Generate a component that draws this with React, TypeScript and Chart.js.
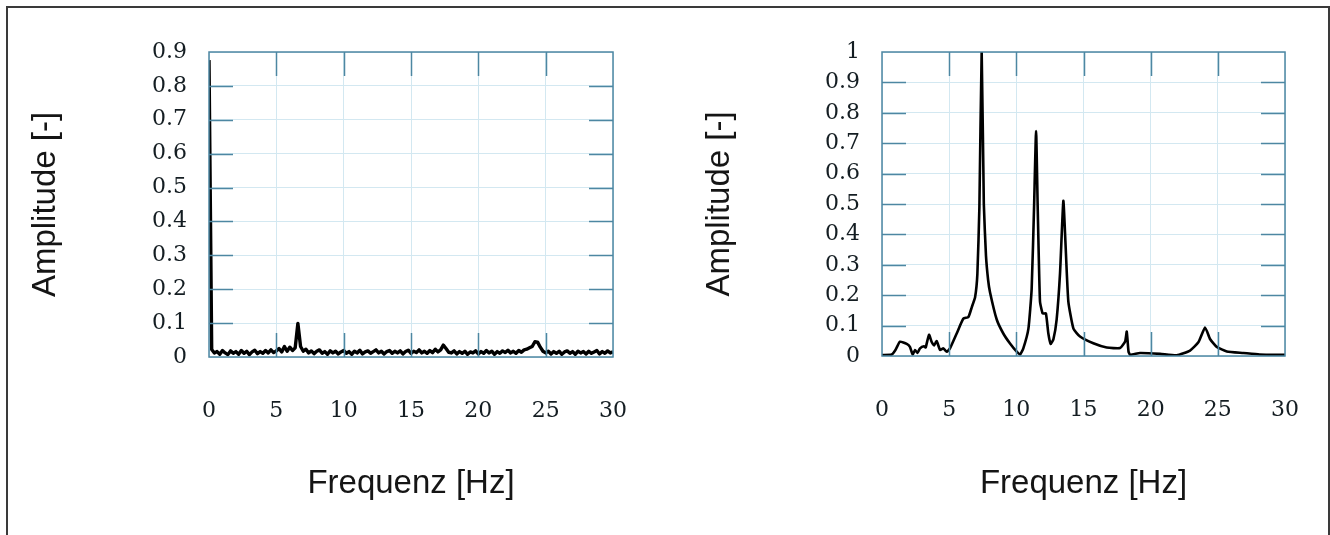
import React, { useEffect, useRef } from "react";
import { Chart, registerables } from "chart.js";

Chart.register(...registerables);

// ---------- DATA ----------
const STEP_LEFT = 0.2; // Hz between samples of left spectrum
const ampLeft = [
  0.876, 0.022, 0.012, 0.016, 0.008, 0.019, 0.012, 0.007, 0.018, 0.011,
  0.016, 0.008, 0.019, 0.011, 0.017, 0.007, 0.015, 0.020, 0.010, 0.016,
  0.011, 0.019, 0.012, 0.021, 0.013, 0.018, 0.025, 0.015, 0.031, 0.017,
  0.029, 0.019, 0.027, 0.099, 0.031, 0.017, 0.023, 0.012, 0.018, 0.010,
  0.017, 0.021, 0.011, 0.016, 0.008, 0.018, 0.012, 0.017, 0.009, 0.015,
  0.019, 0.011, 0.016, 0.008, 0.017, 0.012, 0.020, 0.009, 0.015, 0.018,
  0.011, 0.016, 0.021, 0.012, 0.017, 0.009, 0.016, 0.019, 0.011, 0.017,
  0.012, 0.018, 0.009, 0.016, 0.020, 0.011, 0.017, 0.013, 0.021, 0.012,
  0.017, 0.011, 0.019, 0.013, 0.023, 0.015, 0.021, 0.035, 0.025, 0.014,
  0.012, 0.018, 0.009, 0.016, 0.011, 0.017, 0.008, 0.015, 0.012, 0.018,
  0.009, 0.016, 0.011, 0.019, 0.012, 0.017, 0.008, 0.016, 0.011, 0.018,
  0.013, 0.020, 0.012, 0.017, 0.011, 0.019, 0.014, 0.021, 0.023, 0.027,
  0.031, 0.045, 0.044, 0.029, 0.017, 0.012, 0.017, 0.009, 0.016, 0.011,
  0.017, 0.008, 0.015, 0.018, 0.011, 0.016, 0.008, 0.017, 0.012, 0.016,
  0.009, 0.017, 0.011, 0.015, 0.019, 0.009, 0.016, 0.011, 0.018, 0.012,
  0.015,
];

const freqRight = [
  0, 0.72, 1.0, 1.34, 1.84, 2.08, 2.28, 2.46, 2.63, 2.83, 3.13, 3.25, 3.5, 3.7,
  3.88, 4.07, 4.32, 4.57, 4.82, 5.06, 5.56, 6.06, 6.43, 6.68, 6.93, 7.1, 7.25,
  7.42, 7.58, 7.74, 7.9, 8.04, 8.54, 9.03, 9.53, 10.03, 10.28, 10.52, 10.9,
  11.14, 11.32, 11.47, 11.59, 11.76, 11.96, 12.2, 12.38, 12.56, 12.76, 13.0,
  13.25, 13.5, 13.65, 13.87, 14.25, 14.74, 15.73, 16.73, 17.72, 18.1, 18.22,
  18.35, 18.47, 19.2, 20.7, 21.94, 22.93, 23.55, 24.05, 24.42, 24.92, 25.67,
  26.9, 28.1, 30,
];
const ampRight = [
  0.003, 0.005, 0.02, 0.047, 0.04, 0.03, 0.005, 0.02, 0.01, 0.025, 0.032,
  0.028, 0.07, 0.046, 0.035, 0.049, 0.02, 0.025, 0.014, 0.025, 0.074, 0.123,
  0.128, 0.16, 0.193, 0.27, 0.49, 1.0, 0.5, 0.33, 0.25, 0.21, 0.12, 0.074,
  0.041, 0.014, 0.005, 0.025, 0.09, 0.22, 0.49, 0.74, 0.49, 0.18, 0.14, 0.14,
  0.075, 0.04, 0.055, 0.12, 0.27, 0.51, 0.38, 0.18, 0.09, 0.064, 0.042, 0.028,
  0.026, 0.048, 0.08, 0.015, 0.004, 0.01, 0.007, 0.002, 0.018, 0.045, 0.094,
  0.056, 0.03, 0.015, 0.01, 0.005, 0.004,
];

const yLabelsLeft = ["0", "0.1", "0.2", "0.3", "0.4", "0.5", "0.6", "0.7", "0.8", "0.9"];
const yLabelsRight = ["0", "0.1", "0.2", "0.3", "0.4", "0.5", "0.6", "0.7", "0.8", "0.9", "1"];
const xLabels = ["0", "5", "10", "15", "20", "25", "30"];
const X_TITLE = "Frequenz [Hz]";
const Y_TITLE = "Amplitude [-]";

// ---------- STYLE ----------
const AXIS_COLOR = "#4d87a2";
const GRID_COLOR = "#d3e8f1";
const TICK_FONT = { family: "'DejaVu Serif', serif", size: 22 };
const TITLE_FONT = { family: "'Liberation Sans', Arial, sans-serif", size: 33 };

const framePlugin = {
  id: "frame",
  afterDraw(chart: any) {
    const { ctx, chartArea: a } = chart;
    const xs = chart.scales.x;
    const ys = chart.scales.y;
    const L = 24;
    ctx.save();
    ctx.strokeStyle = AXIS_COLOR;
    ctx.lineWidth = 1.5;
    ctx.beginPath();
    xs.ticks.forEach((t: any) => {
      if (t.value <= xs.min || t.value >= xs.max) return;
      const px = Math.round(xs.getPixelForValue(t.value)) + 0.5;
      ctx.moveTo(px, a.bottom);
      ctx.lineTo(px, a.bottom - L);
      ctx.moveTo(px, a.top);
      ctx.lineTo(px, a.top + L);
    });
    ys.ticks.forEach((t: any) => {
      if (t.value <= ys.min + 1e-9 || t.value >= ys.max - 1e-9) return;
      const py = Math.round(ys.getPixelForValue(t.value)) + 0.5;
      ctx.moveTo(a.left, py);
      ctx.lineTo(a.left + L, py);
      ctx.moveTo(a.right, py);
      ctx.lineTo(a.right - L, py);
    });
    ctx.stroke();
    ctx.strokeRect(a.left, a.top, a.right - a.left, a.bottom - a.top);
    ctx.restore();
  },
};

function makeOptions(cfg: {
  yMax: number;
  yLabels: string[];
  yWidth: number;
  xHeight: number;
  padTop: number;
  padRight: number;
  yTitlePad: number;
}) {
  return {
    responsive: false,
    animation: false as const,
    devicePixelRatio: 1,
    layout: { autoPadding: false, padding: { left: 0, top: cfg.padTop, right: cfg.padRight, bottom: 0 } },
    plugins: { legend: { display: false }, tooltip: { enabled: false } },
    elements: { point: { radius: 0 } },
    scales: {
      x: {
        type: "linear" as const,
        min: 0,
        max: 30,
        ticks: {
          stepSize: 5,
          padding: 41,
          font: TICK_FONT,
          color: "#141d22",
          callback: (_v: any, i: number) => xLabels[i],
        },
        grid: { color: GRID_COLOR, drawTicks: false, lineWidth: 1 },
        border: { display: false },
        title: {
          display: true,
          text: X_TITLE,
          font: TITLE_FONT,
          color: "#151515",
          padding: { top: 0, bottom: 31 },
        },
        afterFit: (s: any) => {
          s.height = cfg.xHeight;
          s.paddingLeft = 0;
          s.paddingRight = 0;
        },
      },
      y: {
        min: 0,
        max: cfg.yMax,
        ticks: {
          stepSize: 0.1,
          padding: 22,
          font: TICK_FONT,
          color: "#141d22",
          callback: (_v: any, i: number) => cfg.yLabels[i],
        },
        grid: { color: GRID_COLOR, drawTicks: false, lineWidth: 1 },
        border: { display: false },
        title: {
          display: true,
          text: Y_TITLE,
          font: TITLE_FONT,
          color: "#151515",
          padding: { top: cfg.yTitlePad, bottom: 0 },
        },
        afterFit: (s: any) => {
          s.width = cfg.yWidth;
          s.paddingTop = 0;
          s.paddingBottom = 0;
        },
      },
    },
  };
}

export default function App() {
  const leftRef = useRef<HTMLCanvasElement | null>(null);
  const rightRef = useRef<HTMLCanvasElement | null>(null);

  useEffect(() => {
    document.body.style.margin = "0";
    const leftData = ampLeft.map((v, i) => ({ x: i * STEP_LEFT, y: v }));
    const rightData = freqRight.map((f, i) => ({ x: f, y: ampRight[i] }));

    const c1 = new Chart(leftRef.current!, {
      type: "line",
      data: {
        datasets: [
          {
            data: leftData,
            borderColor: "#000",
            borderWidth: 3.4,
            borderJoinStyle: "round",
            tension: 0,
            fill: false,
          },
        ],
      },
      options: makeOptions({
        yMax: 0.9,
        yLabels: yLabelsLeft,
        yWidth: 209,
        xHeight: 535 - 357,
        padTop: 52,
        padRight: 52,
        yTitlePad: 26,
      }) as any,
      plugins: [framePlugin],
    });

    const c2 = new Chart(rightRef.current!, {
      type: "line",
      data: {
        datasets: [
          {
            data: rightData,
            borderColor: "#000",
            borderWidth: 2.6,
            borderJoinStyle: "round",
            tension: 0.15,
            fill: false,
          },
        ],
      },
      options: makeOptions({
        yMax: 1,
        yLabels: yLabelsRight,
        yWidth: 882 - 665,
        xHeight: 535 - 356,
        padTop: 52,
        padRight: 45,
        yTitlePad: 35,
      }) as any,
      plugins: [framePlugin],
    });

    return () => {
      c1.destroy();
      c2.destroy();
    };
  }, []);

  return (
    <div
      style={{
        position: "relative",
        width: 1330,
        height: 535,
        overflow: "hidden",
        background: "#fff",
      }}
    >
      <div
        style={{
          position: "absolute",
          left: 6,
          top: 6,
          width: 1320,
          height: 700,
          borderLeft: "2px solid #3a3a3a",
          borderTop: "2px solid #3a3a3a",
          borderRight: "2px solid #3a3a3a",
        }}
      />
      <canvas
        ref={leftRef}
        width={665}
        height={535}
        style={{ position: "absolute", left: 0, top: 0, width: 665, height: 535 }}
      />
      <canvas
        ref={rightRef}
        width={665}
        height={535}
        style={{ position: "absolute", left: 665, top: 0, width: 665, height: 535 }}
      />
    </div>
  );
}
